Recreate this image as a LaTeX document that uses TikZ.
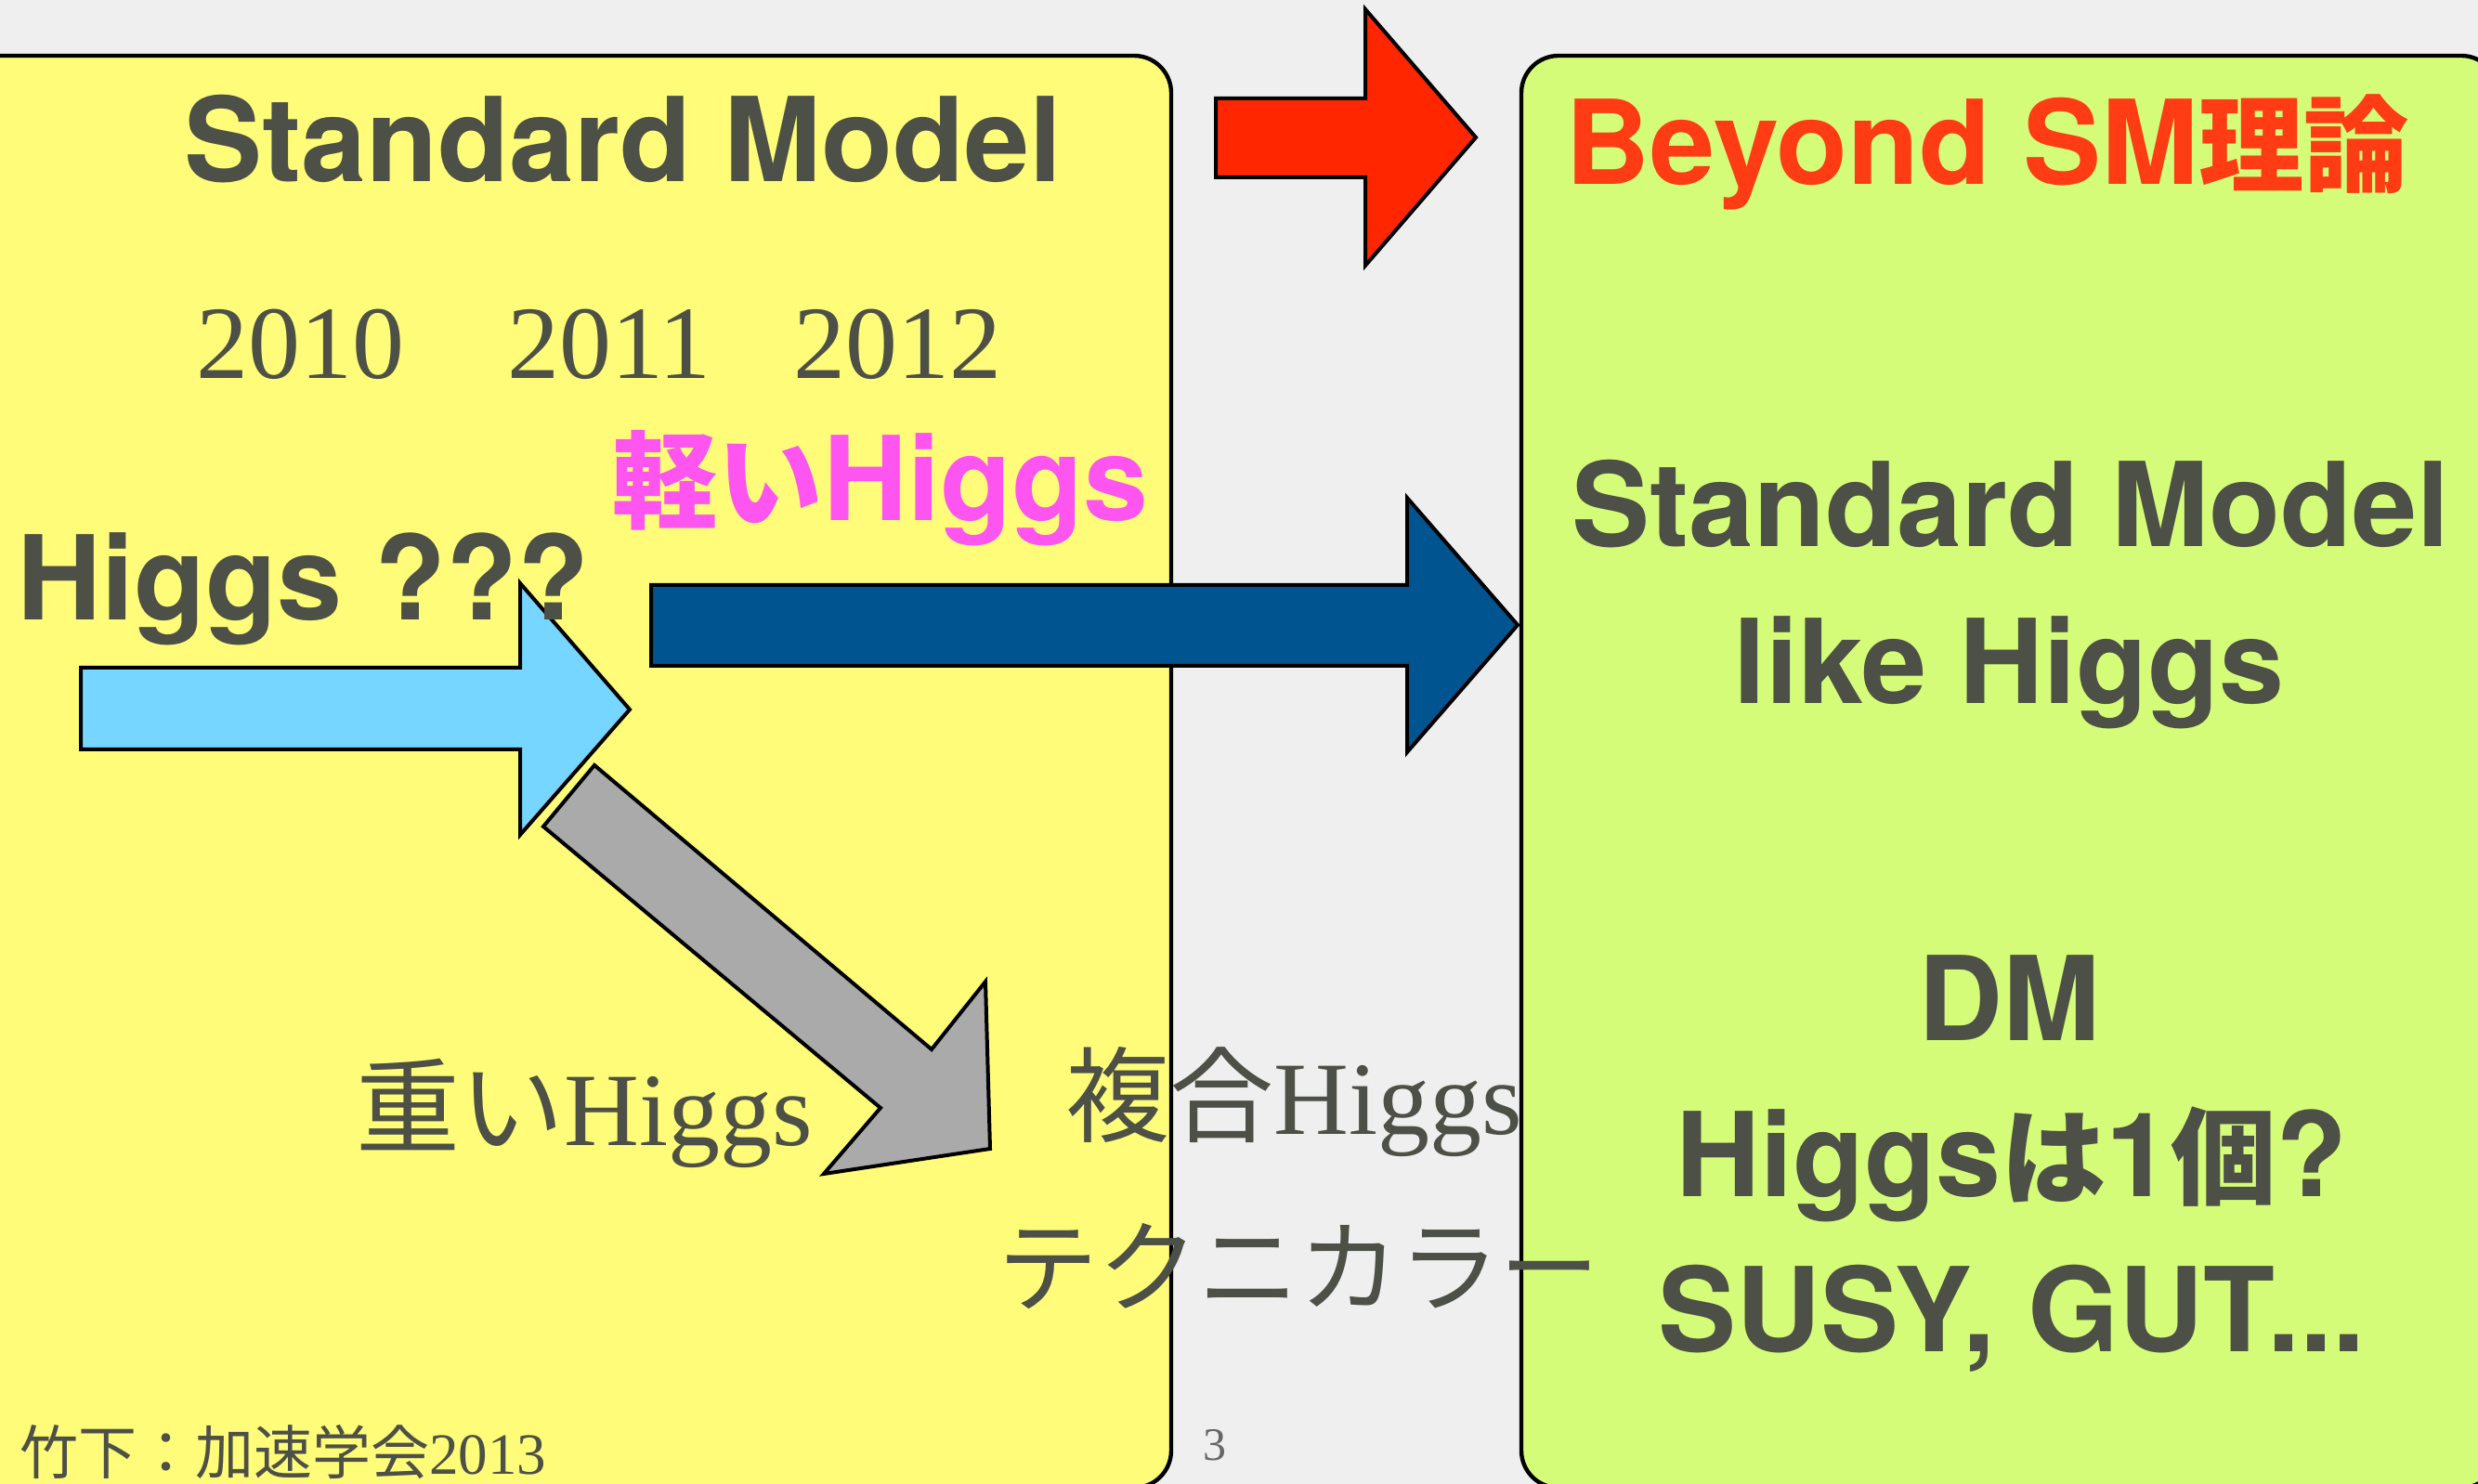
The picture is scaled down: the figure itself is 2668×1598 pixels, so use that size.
\documentclass[tikz,border=0pt]{standalone}
\usepackage{fontspec}
\setmainfont{Liberation Serif}
\newfontfamily\gothicfont{TeX Gyre Heros}
\newfontfamily\jpsans{Noto Sans CJK JP}[Scale=0.9]
\newfontfamily\jpserif{Noto Sans CJK JP}
\usetikzlibrary{positioning}
\pgfdeclarelayer{background}
\pgfdeclarelayer{foreground}
\pgfsetlayers{background,main,foreground}
\definecolor{paper}{HTML}{EFEFEF}
\definecolor{smyellow}{HTML}{FFFC79}
\definecolor{bsmgreen}{HTML}{D5FC79}
\definecolor{arrowred}{HTML}{FF2600}
\definecolor{arrownavy}{HTML}{00548F}
\definecolor{arrowsky}{HTML}{76D6FF}
\definecolor{arrowgray}{HTML}{AAAAAA}
\definecolor{textgray}{HTML}{4D5046}
\definecolor{lightpink}{HTML}{FF55F0}
\definecolor{titlered}{HTML}{FF3C14}

\begin{document}
\begin{tikzpicture}[x=0.5pt, y=-0.5pt,
						panel/.style={draw=black, line width=2.2pt, rounded corners=20pt},
						blockarrow/.style={draw=black, line width=2pt, line join=miter},
						sanslabel/.style={inner sep=0pt, anchor=base, text=textgray, font=\gothicfont\bfseries\fontsize{63}{70}\selectfont},
						seriflabel/.style={inner sep=0pt, anchor=base west, text=textgray, font=\fontsize{56}{64}\selectfont},
						]
						\useasboundingbox (0,0) rectangle (2668,1598);
						%Nodes
						\node[sanslabel]                     (smtitle)     at (671,196)   {Standard Model};
						\node[seriflabel, anchor=base]       (y2010)       at (323,408)   {2010};
						\node[seriflabel, anchor=base]       (y2011)       at (656,408)   {2011};
						\node[seriflabel, anchor=base]       (y2012)       at (966,408)   {2012};
						\node[sanslabel, text=lightpink]     (light)       at (948,561)   {{\jpsans 軽い}Higgs};
						\node[sanslabel, anchor=base west]   (unknown)     at (18,668)    {Higgs ???};
						\node[seriflabel]                    (heavy)       at (383,1233)  {{\jpserif 重い}Higgs};
						\node[seriflabel]                    (composite)   at (1147,1221) {{\jpserif 複合}Higgs};
						\node[seriflabel, font=\jpserif\fontsize{54}{60}\selectfont]
						                                     (technicolor) at (1074,1404) {テクニカラー};
						\node[seriflabel, font=\fontsize{31.5}{36}\selectfont]
						                                     (credit)      at (21,1587)   {{\jpserif 竹下：加速学会}2013};
						\node[inner sep=0pt, anchor=base, text=black!60, font=\fontsize{25}{30}\selectfont]
						                                     (pagenum)     at (1308,1572) {3};

						\node[sanslabel, text=titlered]      (bsmtitle)    at (2140,199)  {Beyond SM{\jpsans 理論}};
						\node[sanslabel]                     (smlike)      at (2165,589)  {Standard Model};
						\node[sanslabel]                     (likehiggs)   at (2163,758)  {like Higgs};
						\node[sanslabel]                     (dm)          at (2163,1120) {DM};
						\node[sanslabel]                     (howmany)     at (2166,1288) {Higgs{\jpsans は}1{\jpsans 個}?};
						\node[sanslabel]                     (susy)        at (2166,1455) {SUSY, GUT...};

						\begin{pgfonlayer}{background}
						%Panels
						\fill[paper] (0,0) rectangle (2668,1598);
						\draw[panel, fill=smyellow] (-40,60) rectangle (1261,1602);
						\draw[panel, fill=bsmgreen] (1638,60) rectangle (2690,1602);

						%Arrows
						\draw[blockarrow, fill=arrowred] (1309,106) -- (1470,106) -- (1470,10) -- (1589,148)
							-- (1470,286) -- (1470,191) -- (1309,191) -- cycle;
						\draw[blockarrow, fill=arrowsky] (87,719) -- (560,719) -- (560,628) -- (678,764)
							-- (560,899) -- (560,807) -- (87,807) -- cycle;
						\draw[blockarrow, fill=arrownavy] (701,630) -- (1515,630) -- (1515,536) -- (1634,673)
							-- (1515,810) -- (1515,717) -- (701,717) -- cycle;
						\draw[blockarrow, fill=arrowgray] (640,824) -- (1003,1130) -- (1061,1057) -- (1066,1237)
							-- (887,1264) -- (948,1193) -- (585,890) -- cycle;
						\end{pgfonlayer}
					\end{tikzpicture}
\end{document}
